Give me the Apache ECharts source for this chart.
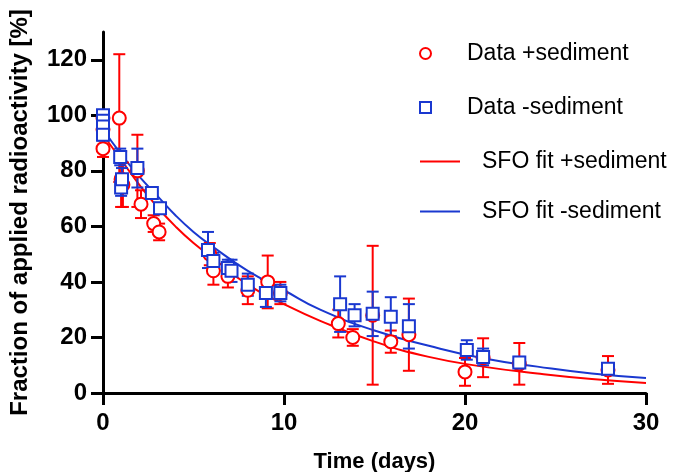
<!DOCTYPE html>
<html>
<head>
<meta charset="utf-8">
<script src="https://cdn.jsdelivr.net/npm/echarts@6/dist/echarts.min.js"></script>
<style>html,body{margin:0;padding:0;background:#fff;}#c{width:675px;height:472px;}</style>
</head>
<body>
<div id="c"></div>
<script>
// ---- data ----
const redT   = [0, 0, 0, 0.9, 1.0, 1.1, 1.9, 2.1, 2.8, 3.1, 5.9, 6.1, 6.9, 8.0, 9.1, 9.8, 13.0, 13.8, 14.9, 15.9, 16.9, 20.0, 21.0, 23.0, 27.9];
const redV   = [99, 95, 88, 99, 77, 75, 80, 68, 61, 58, 50, 44, 42, 37, 40, 36, 25, 20, 28, 18.5, 21, 7.6, 12.7, 10.5, 8.3];
const redSd  = [2, 2, 3, 23, 10, 8, 13, 5, 3, 3, 4, 5, 4, 5, 9.5, 4, 5, 3, 25, 4, 13, 5, 7, 7.5, 5];

const blueT  = [0, 0, 0, 0, 0.95, 1.0, 1.05, 1.9, 2.7, 3.15, 5.8, 6.1, 6.9, 7.1, 8.0, 9.0, 9.8, 13.1, 13.9, 14.9, 15.9, 16.9, 20.1, 21.0, 23.0, 27.9];
const blueV  = [100, 98, 96, 93, 85, 74, 77, 81, 72, 66.5, 51.5, 47.5, 45, 44, 39, 36, 36, 32, 28, 28.5, 27.5, 24, 15.5, 13, 11, 8.7];
const blueSd = [1.5, 1.5, 2, 2, 3, 3, 4, 7, 2, 2, 6.5, 3, 3, 4, 4, 5, 3, 10, 4, 8, 7, 8, 3.5, 3, 2, 2];

const fitT    = [0, 1, 2, 3, 4, 5, 6, 8, 10, 12, 15, 18, 21, 24, 27, 30];
const redFit  = [93, 84, 75, 67, 60, 54, 49, 39, 32, 26, 18.5, 13, 9.5, 7, 5, 3.6];
const blueFit = [95, 86, 78, 71, 64, 58, 53, 44, 37, 30, 22.5, 17, 12.5, 9.5, 7, 5.4];

const yTicks = [0, 20, 40, 60, 80, 100, 120];
const xTicks = [0, 10, 20, 30];

const names = ['Data +sediment', 'Data -sediment', 'SFO fit +sediment', 'SFO fit -sediment'];
// --------------------------------------

const RED = '#ff0000';
const BLUE = '#1a38d0';

const zip2 = (a, b) => a.map((x, i) => [x, b[i]]);
const errData = (t, v, s) => t.map((x, i) => [x, v[i] - s[i], v[i] + s[i]]);

function errRender(color) {
  return function (params, api) {
    const x = api.value(0);
    const lo = api.coord([x, api.value(1)]);
    const hi = api.coord([x, api.value(2)]);
    const w = 6;
    const st = { stroke: color, lineWidth: 2 };
    return {
      type: 'group',
      children: [
        { type: 'line', shape: { x1: lo[0], y1: lo[1], x2: hi[0], y2: hi[1] }, style: st },
        { type: 'line', shape: { x1: lo[0] - w, y1: lo[1], x2: lo[0] + w, y2: lo[1] }, style: st },
        { type: 'line', shape: { x1: hi[0] - w, y1: hi[1], x2: hi[0] + w, y2: hi[1] }, style: st }
      ]
    };
  };
}

const chart = echarts.init(document.getElementById('c'), null, { renderer: 'canvas' });
const FONT = 'Liberation Sans, Arial, sans-serif';

function legendAt(name, top, left, opts) {
  return Object.assign({
    data: [name],
    top: top,
    left: left,
    orient: 'vertical',
    selectedMode: false,
    textStyle: { fontFamily: FONT, fontSize: 23, color: '#000' }
  }, opts);
}

chart.setOption({
  animation: false,
  backgroundColor: '#fff',
  grid: { left: 103, right: 29, top: 32, bottom: 79, containLabel: false, outerBoundsMode: 'none' },
  legend: [
    legendAt(names[0], 37, 414, { itemWidth: 11, itemHeight: 11,
      textStyle: { fontFamily: FONT, fontSize: 23, color: '#000', padding: [0, 0, 0, 31] } }),
    legendAt(names[1], 91, 414, { itemWidth: 11, itemHeight: 11,
      textStyle: { fontFamily: FONT, fontSize: 23, color: '#000', padding: [0, 0, 0, 31] } }),
    legendAt({ name: names[2], icon: 'rect' }, 145, 415, { itemWidth: 40, itemHeight: 2,
      textStyle: { fontFamily: FONT, fontSize: 23, color: '#000', padding: [0, 0, 0, 17] } }),
    legendAt({ name: names[3], icon: 'rect' }, 195, 415, { itemWidth: 40, itemHeight: 2,
      textStyle: { fontFamily: FONT, fontSize: 23, color: '#000', padding: [0, 0, 0, 17] } })
  ],
  xAxis: {
    type: 'value', min: 0, max: 30, interval: 10,
    name: 'Time (days)', nameLocation: 'middle', nameGap: 58,
    nameTextStyle: { fontFamily: FONT, fontSize: 22, fontWeight: 'bold', color: '#000' },
    axisLine: { onZero: false, lineStyle: { color: '#000', width: 3 } },
    axisTick: { show: true, length: 12, lineStyle: { color: '#000', width: 3 }, customValues: xTicks },
    axisLabel: { fontFamily: FONT, fontSize: 24, fontWeight: 'bold', color: '#000', margin: 18, customValues: xTicks },
    splitLine: { show: false }
  },
  yAxis: {
    type: 'value', min: 0, max: 130, interval: 20,
    name: 'Fraction of applied radioactivity [%]', nameLocation: 'middle', nameGap: 71, nameRotate: 90,
    nameTextStyle: { fontFamily: FONT, fontSize: 24, fontWeight: 'bold', color: '#000' },
    axisLine: { show: true, onZero: false, lineStyle: { color: '#000', width: 3 } },
    axisTick: { show: true, length: 12, lineStyle: { color: '#000', width: 3 }, customValues: yTicks },
    axisLabel: { fontFamily: FONT, fontSize: 24, fontWeight: 'bold', color: '#000', margin: 16, customValues: yTicks },
    splitLine: { show: false }
  },
  series: [
    { name: names[2], type: 'line', data: zip2(fitT, redFit), smooth: true, symbol: 'none',
      lineStyle: { color: RED, width: 2 }, itemStyle: { color: RED }, z: 2 },
    { name: names[3], type: 'line', data: zip2(fitT, blueFit), smooth: true, symbol: 'none',
      lineStyle: { color: BLUE, width: 2 }, itemStyle: { color: BLUE }, z: 2 },
    { type: 'custom', data: errData(redT, redV, redSd), renderItem: errRender(RED), z: 3, silent: true },
    { type: 'custom', data: errData(blueT, blueV, blueSd), renderItem: errRender(BLUE), z: 3, silent: true },
    { name: names[0], type: 'scatter', data: zip2(redT, redV), symbol: 'circle', symbolSize: 13,
      itemStyle: { color: '#fff', borderColor: RED, borderWidth: 2, opacity: 1 }, z: 4, clip: false },
    { name: names[1], type: 'scatter', data: zip2(blueT, blueV), symbol: 'rect', symbolSize: 12,
      itemStyle: { color: '#fff', borderColor: BLUE, borderWidth: 2, opacity: 1 }, z: 5, clip: false }
  ]
});
</script>
</body>
</html>
